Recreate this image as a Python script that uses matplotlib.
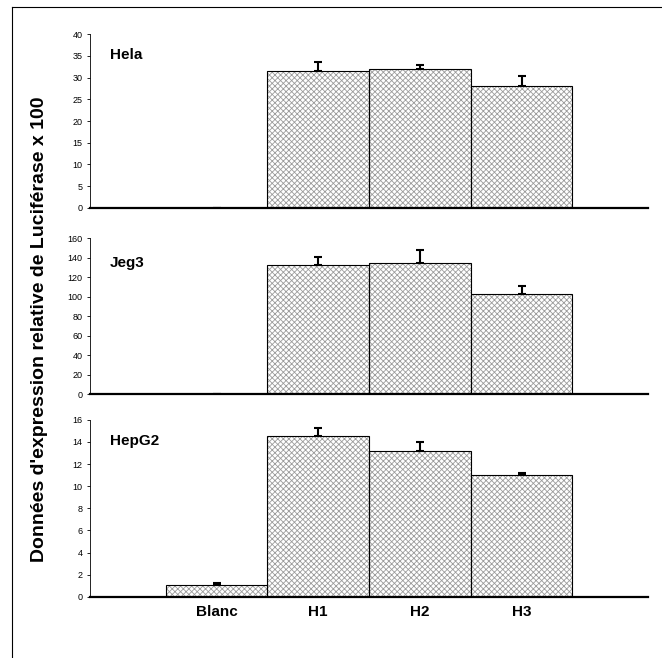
import matplotlib.pyplot as plt
from matplotlib.lines import Line2D
import numpy as np

plt.rcParams['font.family'] = ['Liberation Sans', 'DejaVu Sans']
plt.rcParams['hatch.linewidth'] = 0.6

categories = ['Blanc', 'H1', 'H2', 'H3']
cell_lines = ['Hela', 'Jeg3', 'HepG2']

hela_vals = [0.0, 31.6, 32.0, 28.1]
hela_err = [0.0, 2.0, 0.9, 2.3]
jeg3_vals = [0.0, 132.3, 135.0, 102.3]
jeg3_err = [0.0, 8.5, 12.7, 8.7]
hepg2_vals = [1.08, 14.56, 13.2, 11.0]
hepg2_err = [0.16, 0.69, 0.75, 0.2]

ylims = [40, 160, 16]
ysteps = [5, 20, 2]

values = [hela_vals, jeg3_vals, hepg2_vals]
errors = [hela_err, jeg3_err, hepg2_err]

fig = plt.figure(figsize=(6.62, 6.58), dpi=100)
# panel positions (left, bottom, width, height) in figure fraction
boxes = [(0.136, 0.684, 0.843, 0.264),
         (0.136, 0.401, 0.843, 0.237),
         (0.136, 0.093, 0.843, 0.269)]

x = np.arange(len(categories))
for i, name in enumerate(cell_lines):
    ax = fig.add_axes(boxes[i])
    # textured fill, then black outline
    ax.bar(x, values[i], width=1.0, color='white', edgecolor='#9c9c9c',
           hatch='xxxxxx', linewidth=0, zorder=2)
    ax.bar(x, values[i], width=1.0, color='none', edgecolor='black',
           linewidth=0.8, zorder=3)
    # only upper error bars
    ax.errorbar(x, values[i], yerr=[np.zeros(len(x)), errors[i]], fmt='none',
                ecolor='black', elinewidth=1.5, capsize=3, capthick=1.5, zorder=4)
    ax.set_xlim(-1.245, 4.245)
    ax.set_ylim(0, ylims[i])
    ax.set_yticks(np.arange(0, ylims[i] + 0.01, ysteps[i]))
    ax.tick_params(axis='y', labelsize=6.5, length=2.5, width=0.6, pad=3)
    ax.spines['top'].set_visible(False)
    ax.spines['right'].set_visible(False)
    ax.spines['left'].set_linewidth(0.6)
    ax.spines['bottom'].set_linewidth(1.6)
    ax.text(0.035, 0.88 if i != 1 else 0.84, name, transform=ax.transAxes,
            fontsize=11, fontweight='bold', va='center')
    if i == 2:
        ax.set_xticks(x)
        ax.set_xticklabels(categories, fontsize=11, fontweight='bold')
        ax.tick_params(axis='x', length=0, pad=6)
    else:
        ax.set_xticks([])

fig.text(0.06, 0.5, "Données d'expression relative de Luciférase x 100",
         rotation=90, fontsize=14, fontweight='bold', ha='center', va='center')

# scanned frame lines
fig.add_artist(Line2D([0.018, 1.0], [0.989, 0.989], color='black', linewidth=0.8))
fig.add_artist(Line2D([0.018, 0.018], [0.0, 0.989], color='black', linewidth=0.8))

fig.savefig('out.png', dpi=100)
